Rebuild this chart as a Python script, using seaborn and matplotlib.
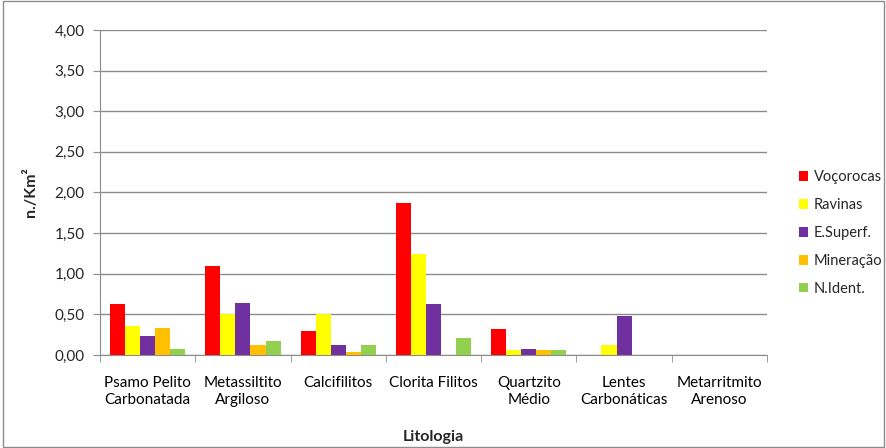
import pandas as pd
import numpy as np
import matplotlib
matplotlib.use('Agg')
import matplotlib.pyplot as plt
from matplotlib.ticker import FuncFormatter, FixedLocator
from matplotlib.patches import Rectangle
import seaborn as sns

# Categories and series values
litologias = ['Psamo Pelito\nCarbonatada', 'Metassiltito\nArgiloso', 'Calcifilitos',
              'Clorita Filitos', 'Quartzito\nMédio', 'Lentes\nCarbonáticas',
              'Metarritmito\nArenoso']
series = ['Voçorocas', 'Ravinas', 'E.Superf.', 'Mineração', 'N.Ident.']
vocorocas = [0.63, 1.09, 0.30, 1.875, 0.32, 0.0, 0.0]
ravinas = [0.36, 0.50, 0.51, 1.24, 0.065, 0.12, 0.0]
e_superf = [0.235, 0.64, 0.127, 0.63, 0.075, 0.48, 0.0]
mineracao = [0.33, 0.123, 0.04, 0.0, 0.06, 0.0, 0.0]
n_ident = [0.078, 0.176, 0.127, 0.205, 0.06, 0.0, 0.0]
colors = ['#FF0000', '#FFFF00', '#7030A0', '#FFC000', '#92D050']

values = [vocorocas, ravinas, e_superf, mineracao, n_ident]
df = pd.DataFrame({
    'Litologia': np.tile(litologias, len(series)),
    'Serie': np.repeat(series, len(litologias)),
    'valor': np.concatenate(values),
})

sns.set_style('white')
plt.rcParams['font.family'] = ['Lato', 'DejaVu Sans']

fig = plt.figure(figsize=(8.87, 4.48), dpi=100)
ax = fig.add_axes([100 / 887, 1 - 355 / 448, 667 / 887, 325 / 448])

sns.barplot(data=df, x='Litologia', y='valor', hue='Serie', hue_order=series,
            order=litologias, palette=colors, width=0.79, gap=0, saturation=1,
            edgecolor='none', ax=ax)

ax.set_ylim(0, 4)
ax.set_xlim(-0.5, len(litologias) - 0.5)
ax.set_yticks(np.arange(0, 4.01, 0.5))
ax.yaxis.set_major_formatter(FuncFormatter(lambda v, p: f'{v:.2f}'.replace('.', ',')))
ax.grid(axis='y', color='#8c8c8c', linewidth=1)
ax.set_axisbelow(True)

# category boundary tick marks like Excel
ax.xaxis.set_minor_locator(FixedLocator(np.arange(-0.5, len(litologias), 1)))
ax.tick_params(axis='x', which='major', length=0, pad=15, labelsize=11, colors='black')
ax.tick_params(axis='x', which='minor', length=5, color='#8c8c8c', bottom=True)
ax.tick_params(axis='y', length=5, color='#8c8c8c', labelsize=11, left=True, pad=6)
for lbl in ax.get_xticklabels():
    lbl.set_linespacing(1.3)

for s in ['top', 'right']:
    ax.spines[s].set_visible(False)
for s in ['left', 'bottom']:
    ax.spines[s].set_color('#8c8c8c')

ax.set_xlabel('Litologia', fontsize=11.5, fontweight='bold')
ax.set_ylabel('n./Km²', fontsize=11.5, fontweight='bold', labelpad=12)
ax.xaxis.set_label_coords(0.5, -(430 - 355) / 325)

ax.legend(loc='center left', bbox_to_anchor=(799 / 887, 1 - 233 / 448),
          bbox_transform=fig.transFigure, frameon=False, fontsize=10.5,
          handlelength=0.65, handleheight=0.65, handletextpad=0.35, labelspacing=0.95,
          borderaxespad=0, borderpad=0, title=None)

fig.patches.append(Rectangle((0.003, 0.003), 0.994, 0.994, transform=fig.transFigure,
                             fill=False, edgecolor='#8c8c8c', linewidth=1))

fig.savefig('out.png', dpi=100)
